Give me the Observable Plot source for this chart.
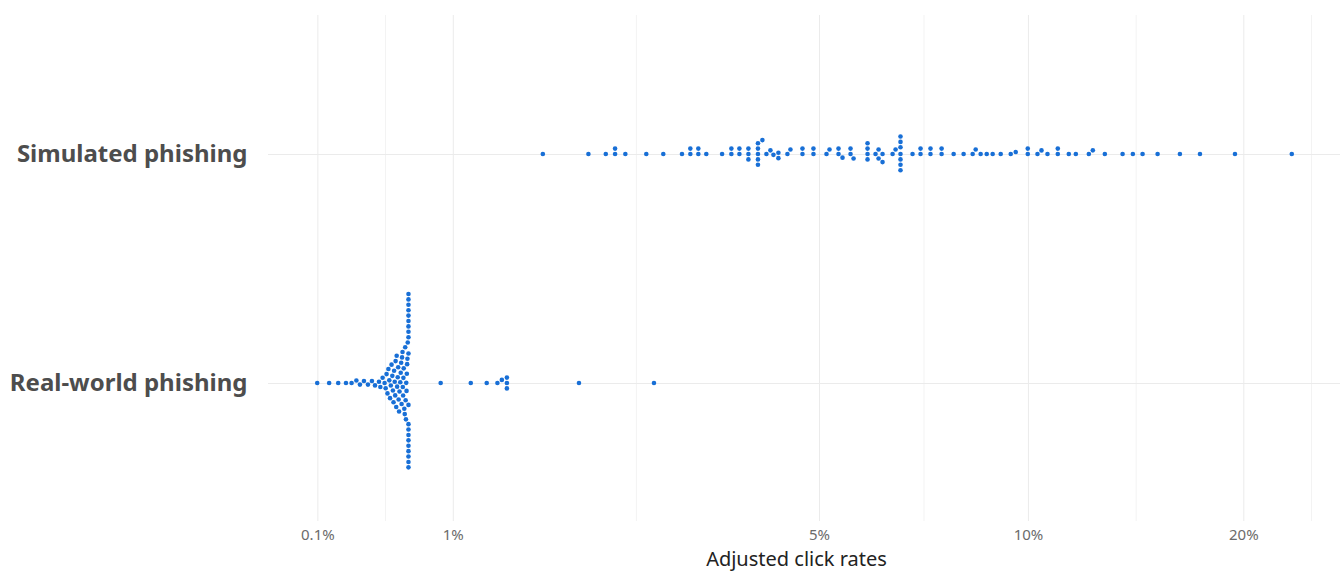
<!DOCTYPE html>
<html>
<head>
<meta charset="utf-8">
<script src="https://cdn.jsdelivr.net/npm/d3@7"></script>
<script src="https://cdn.jsdelivr.net/npm/@observablehq/plot@0.6"></script>
<style>
  html, body { margin: 0; padding: 0; background: #fff; }
  #chart { position: relative; width: 1341px; height: 571px; }
  #chart svg { display: block; position: absolute; left: 0; top: 0; }
</style>
</head>
<body>
<div id="chart"></div>
<script>
// ---- data (click rates in %) ----
const groups = ["Simulated phishing", "Real-world phishing"];

const simulated = [
  1.687, 2.086, 2.249, 2.339, 2.339, 2.441, 2.657, 2.841, 3.053, 3.151, 3.151,
  3.247, 3.247, 3.345, 3.545, 3.667, 3.667, 3.775, 3.775, 3.899, 3.899, 3.899,
  4.034, 4.034, 4.034, 4.034, 4.034, 4.098, 4.157, 4.216, 4.261, 4.336, 4.336,
  4.475, 4.522, 4.715, 4.715, 4.897, 4.897, 5.121, 5.174, 5.335, 5.335, 5.408,
  5.557, 5.557, 5.614, 5.885, 5.885, 5.885, 5.885, 6.045, 6.107, 6.107, 6.189,
  6.189, 6.400, 6.464, 6.571, 6.571, 6.571, 6.571, 6.571, 6.571, 6.571, 6.839,
  7.023, 7.023, 7.258, 7.258, 7.529, 7.529, 7.833, 8.094, 8.337, 8.420, 8.558,
  8.729, 8.901, 9.137, 9.440, 9.595, 9.978, 9.978, 10.297, 10.432, 10.637,
  10.998, 10.998, 11.397, 11.658, 12.158, 12.316, 12.802, 13.555, 14.011,
  14.455, 15.170, 16.296, 17.379, 19.441, 23.313
];

const realWorld = [
  0.096, 0.172, 0.230, 0.280, 0.316, 0.347, 0.370, 0.396, 0.422, 0.448, 0.468, 0.494,
  0.503, 0.518,
  0.531, 0.538, 0.544, 0.550,
  0.556, 0.562, 0.567, 0.572, 0.577,
  0.582, 0.586, 0.590, 0.594, 0.598, 0.601, 0.604,
  0.608, 0.611, 0.614, 0.618, 0.621, 0.624, 0.627, 0.630,
  0.635, 0.638, 0.641, 0.644, 0.647, 0.650, 0.652, 0.654, 0.656, 0.658,
  0.662, 0.665, 0.668, 0.671, 0.673, 0.675, 0.677, 0.679, 0.681, 0.683, 0.685,
  0.690, 0.690, 0.690, 0.690, 0.690, 0.690, 0.690, 0.690, 0.690, 0.690,
  0.690, 0.690, 0.690, 0.690, 0.690, 0.690, 0.690, 0.690, 0.690, 0.690,
  0.911, 1.126, 1.244, 1.325, 1.359, 1.398, 1.398, 1.398, 2.000, 2.739
];

const tickValues = [0.1, 1, 5, 10, 20];
const tickLabels = ["0.1%", "1%", "5%", "10%", "20%"];
const xTitle = "Adjusted click rates";

// ---- derived table ----
const data = [
  ...simulated.map(v => ({group: groups[0], rate: v})),
  ...realWorld.map(v => ({group: groups[1], rate: v}))
];

// pseudo-log transform (asinh), sigma = 1%
const tf = v => Math.asinh(v / 2);
const tfInv = t => 2 * Math.sinh(t);

const [tmin, tmax] = d3.extent(data, d => tf(d.rate));
const pad = (tmax - tmin) * 0.05;
const domainT = [tmin - pad, tmax + pad];

// minor breaks: midpoints (transformed space) between major breaks, extended one step each side
const tt = tickValues.map(tf);
const stepT = tt[1] - tt[0];
const ext = [tt[0] - stepT, ...tt, tt[tt.length - 1] + stepT];
const minorValues = d3.pairs(ext, (a, b) => tfInv((a + b) / 2))
  .filter(v => tf(v) > domainT[0] && tf(v) < domainT[1]);

const common = {
  width: 1341,
  height: 571,
  marginLeft: 268,
  marginRight: 1,
  marginTop: 15,
  marginBottom: 50,
  x: {transform: tf, domain: domainT, axis: null}
};
const fontFamily = "'Noto Sans', sans-serif";

// background layer: grid, axes, labels
const base = Plot.plot({
  ...common,
  style: {fontFamily, background: "#fff"},
  y: {type: "point", domain: groups, padding: 0.6, axis: null},
  marks: [
    Plot.ruleX(minorValues, {stroke: "#f3f3f3", strokeWidth: 1}),
    Plot.ruleX(tickValues, {stroke: "#ebebeb", strokeWidth: 1}),
    Plot.gridY({stroke: "#ebebeb", strokeOpacity: 1, strokeWidth: 1}),
    Plot.axisX(tickValues, {
      tickSize: 0, tickPadding: 8, fontSize: 15, fill: "#6b6b6b", label: null,
      tickFormat: d => tickLabels[tickValues.indexOf(d)]
    }),
    Plot.text([xTitle], {
      frameAnchor: "bottom", lineAnchor: "middle", dy: 38, dx: -8,
      fontSize: 20, fill: "#222"
    }),
    Plot.axisY({
      tickSize: 0, tickPadding: 21, fontSize: 24, fontWeight: 700,
      fill: "#4d4d4d", label: null
    })
  ]
});

// foreground layer: beeswarm dots
const dots = Plot.plot({
  ...common,
  style: {fontFamily, background: "transparent"},
  fy: {domain: groups, paddingInner: 0, paddingOuter: 0.1, axis: null},
  marks: [
    Plot.dot(data, Plot.dodgeY({
      anchor: "middle", x: "rate", fy: "group", r: 2.3, padding: 0.8,
      fill: "#186fd6", stroke: "none"
    }))
  ]
});

const el = document.getElementById("chart");
el.append(base);
el.append(dots);
</script>
</body>
</html>
